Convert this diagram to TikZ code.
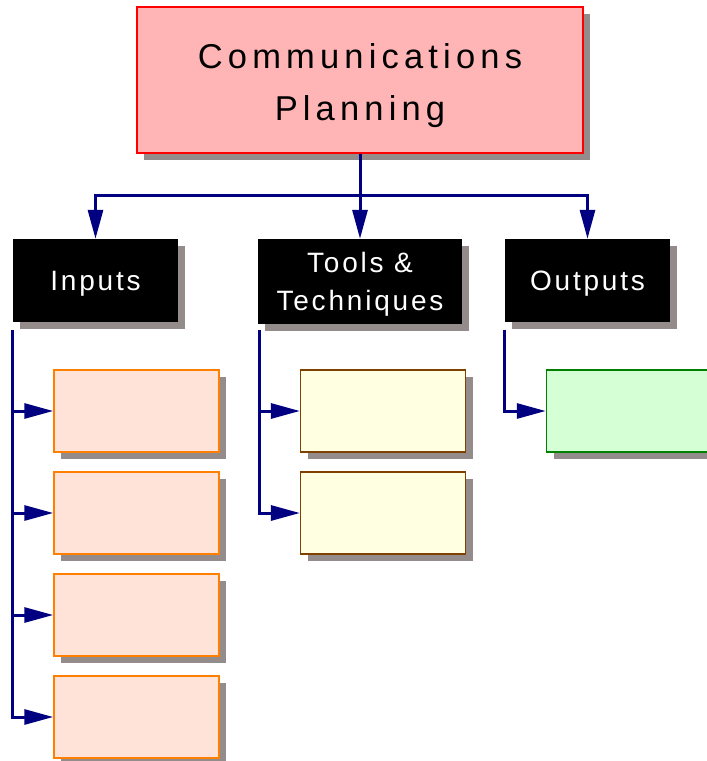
\documentclass[tikz,border=0pt]{standalone}
\usepackage{fontspec}
\usetikzlibrary{arrows.meta,shadows}
\newfontfamily\diagfont[LetterSpace=15]{Liberation Sans}
\newfontfamily\headfont[LetterSpace=10]{Liberation Sans}
\definecolor{navyline}{HTML}{000080}
\definecolor{shadowgrey}{HTML}{948B8B}
\definecolor{planfill}{HTML}{FFB5B5}
\definecolor{infill}{HTML}{FFE3D8}
\definecolor{inborder}{HTML}{FF8000}
\definecolor{ttfill}{HTML}{FFFFE1}
\definecolor{ttborder}{HTML}{804000}
\definecolor{outfill}{HTML}{D5FFD5}
\definecolor{outborder}{HTML}{008000}
\tikzset{
  boxshadow/.style={drop shadow={shadow xshift=7pt, shadow yshift=-7pt, fill=shadowgrey, opacity=1}},
  planbox/.style={draw=red, line width=1.5pt, fill=planfill, boxshadow, minimum width=446pt, minimum height=146pt, align=center,
    text depth=0pt, font=\diagfont\fontsize{34.5}{52}\selectfont},
  headbox/.style={fill=black, text=white, boxshadow, minimum width=165pt, minimum height=83pt, align=center,
    text depth=0pt, font=\headfont\fontsize{28}{38}\selectfont},
  leafbox/.style={boxshadow, minimum width=165pt, minimum height=82pt},
  inbox/.style={leafbox, draw=inborder, line width=1.5pt, fill=infill},
  ttbox/.style={leafbox, draw=ttborder, line width=1.2pt, fill=ttfill},
  outbox/.style={leafbox, draw=outborder, line width=1.5pt, fill=outfill},
  link/.style={draw=navyline, line width=3pt, -{Triangle[length=29pt, width=15pt]}}
}
\begin{document}
\begin{tikzpicture}[x=1pt, y={(0pt,-1pt)}]
  \useasboundingbox (0,0) rectangle (707,761);

  \node[planbox] (plan) at (360,80) {\rule{0pt}{29pt}Communications\\Planning};

  \node[headbox] (inputs) at (95.5,280.5) {Inputs};
  \node[headbox, minimum width=204pt, minimum height=85pt] (tools) at (360,281.5) {Tools \&\\Techniques};
  \node[headbox] (outputs) at (587.5,280.5) {Outputs};

  % leaf boxes under each heading
  \node[inbox] (in1) at (136.5,411) {};
  \node[inbox] (in2) at (136.5,513) {};
  \node[inbox] (in3) at (136.5,615) {};
  \node[inbox] (in4) at (136.5,717) {};

  \node[ttbox] (tt1) at (383,411) {};
  \node[ttbox] (tt2) at (383,513) {};

  \node[outbox] (out1) at (629,411) {};

  \coordinate (bus) at (360,195); % level of the branching line

  \draw[link] (plan.south) -- (bus) -| (inputs.north);
  \draw[link] (plan.south) -- (tools.north);
  \draw[link] (plan.south) -- (bus) -| (outputs.north);

  \draw[link] ([yshift=-8pt]inputs.south west) |- (in1.west);
  \draw[link] ([yshift=-8pt]inputs.south west) |- (in2.west);
  \draw[link] ([yshift=-8pt]inputs.south west) |- (in3.west);
  \draw[link] ([yshift=-8pt]inputs.south west) |- (in4.west);

  \draw[link] ([xshift=2pt,yshift=-6pt]tools.south west) |- (tt1.west);
  \draw[link] ([xshift=2pt,yshift=-6pt]tools.south west) |- (tt2.west);

  \draw[link] ([yshift=-8pt]outputs.south west) |- (out1.west);
\end{tikzpicture}
\end{document}
